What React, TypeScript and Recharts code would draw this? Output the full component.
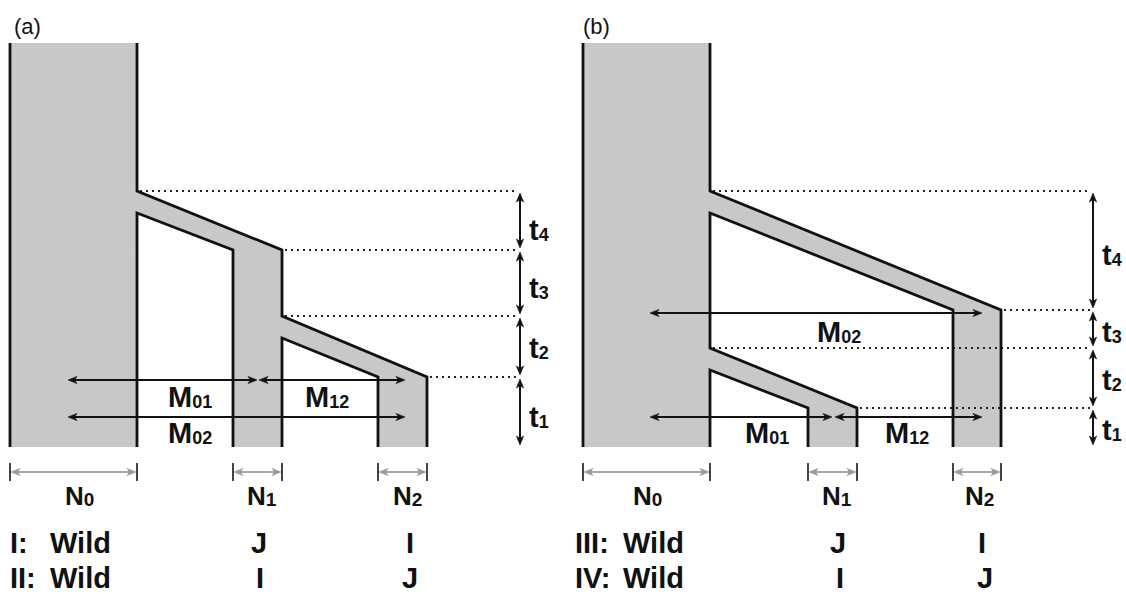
import React from "react";
import { ComposedChart, XAxis, YAxis, Area, Line, Scatter } from "recharts";

const W = 1126;
const H = 594;
const TOP = 43;
const BOTTOM = 447;
const BAND = 22;
const FONT = "'Liberation Sans', Arial, sans-serif";

// x edges [left, right] of N0, N1, N2
const colsA = [
  [10, 137],
  [233, 282],
  [378, 427],
];
const colsB = [
  [583, 710],
  [808, 857],
  [953, 1001],
];

// population splits: parent edge x, time it leaves, child index, time it arrives
const splitsA = [
  { from: 137, start: 191, child: 1, end: 250 },
  { from: 282, start: 316, child: 2, end: 377 },
];
const splitsB = [
  { from: 710, start: 191, child: 2, end: 310 },
  { from: 710, start: 348, child: 1, end: 408 },
];

// time levels for the t arrows (top to bottom) and the arrow column
const tLevelsA = [191, 250, 316, 377, 447];
const tLevelsB = [191, 310, 348, 408, 447];
const tAxisX = [520, 1093];

// migration arrows
const migA = [
  { y: 380, x1: 68, x2: 257 },
  { y: 380, x1: 259, x2: 405 },
  { y: 417, x1: 68, x2: 405 },
];
const migB = [
  { y: 313, x1: 650, x2: 982 },
  { y: 417, x1: 650, x2: 832 },
  { y: 417, x1: 835, x2: 982 },
];

const mLabels = [
  { x: 168, y: 407, text: "M", sub: "01" },
  { x: 305, y: 407, text: "M", sub: "12" },
  { x: 168, y: 443, text: "M", sub: "02" },
  { x: 817, y: 342, text: "M", sub: "02" },
  { x: 745, y: 443, text: "M", sub: "01" },
  { x: 885, y: 443, text: "M", sub: "12" },
];
const tLabels = [
  { x: 529, y: 240, text: "t", sub: "4" },
  { x: 529, y: 298, text: "t", sub: "3" },
  { x: 529, y: 358, text: "t", sub: "2" },
  { x: 529, y: 427, text: "t", sub: "1" },
  { x: 1102, y: 265, text: "t", sub: "4" },
  { x: 1102, y: 342, text: "t", sub: "3" },
  { x: 1102, y: 390, text: "t", sub: "2" },
  { x: 1102, y: 440, text: "t", sub: "1" },
];
const nLabels = [
  { x: 65, y: 505, text: "N", sub: "0" },
  { x: 247, y: 505, text: "N", sub: "1" },
  { x: 393, y: 505, text: "N", sub: "2" },
  { x: 633, y: 505, text: "N", sub: "0" },
  { x: 822, y: 505, text: "N", sub: "1" },
  { x: 965, y: 505, text: "N", sub: "2" },
];
const rowLabels = [
  { x: 10, y: 553, text: "I:" },
  { x: 50, y: 553, text: "Wild" },
  { x: 259, y: 553, text: "J", anchor: "middle" },
  { x: 410, y: 553, text: "I", anchor: "middle" },
  { x: 10, y: 588, text: "II:" },
  { x: 50, y: 588, text: "Wild" },
  { x: 260, y: 588, text: "I", anchor: "middle" },
  { x: 410, y: 588, text: "J", anchor: "middle" },
  { x: 575, y: 553, text: "III:" },
  { x: 623, y: 553, text: "Wild" },
  { x: 838, y: 553, text: "J", anchor: "middle" },
  { x: 982, y: 553, text: "I", anchor: "middle" },
  { x: 575, y: 588, text: "IV:" },
  { x: 623, y: 588, text: "Wild" },
  { x: 840, y: 588, text: "I", anchor: "middle" },
  { x: 985, y: 588, text: "J", anchor: "middle" },
];
const panelLabels = [
  { x: 14, y: 34, text: "(a)" },
  { x: 583, y: 34, text: "(b)" },
];

const SCALE_Y = 472;

type Pt = { x: number; y: number };
const P = (x: number, y: number): Pt => ({ x, y });

// grey fill of one split: slanted band plus child column
function splitFill(cols: number[][], s: { from: number; start: number; child: number; end: number }) {
  const [cl, cr] = cols[s.child];
  const topAtCl = s.start + ((s.end - s.start) * (cl - s.from)) / (cr - s.from);
  return [
    { x: s.from, r: [s.start, s.start + BAND] },
    { x: cl, r: [topAtCl, s.end] },
    { x: cl, r: [topAtCl, BOTTOM] },
    { x: cr, r: [s.end, BOTTOM] },
  ];
}

function outlinesA(): Pt[][] {
  const [c0, c1, c2] = colsA;
  const [s1, s2] = splitsA;
  return [
    [P(c0[0], TOP), P(c0[0], BOTTOM)],
    [P(c0[1], TOP), P(c0[1], s1.start), P(c1[1], s1.end), P(c1[1], s2.start), P(c2[1], s2.end), P(c2[1], BOTTOM)],
    [P(c0[1], BOTTOM), P(c0[1], s1.start + BAND), P(c1[0], s1.end), P(c1[0], BOTTOM)],
    [P(c1[1], BOTTOM), P(c1[1], s2.start + BAND), P(c2[0], s2.end), P(c2[0], BOTTOM)],
  ];
}

function outlinesB(): Pt[][] {
  const [c0, c1, c2] = colsB;
  const [s1, s2] = splitsB;
  return [
    [P(c0[0], TOP), P(c0[0], BOTTOM)],
    [P(c0[1], TOP), P(c0[1], s1.start), P(c2[1], s1.end), P(c2[1], BOTTOM)],
    [P(c2[0], BOTTOM), P(c2[0], s1.end), P(c0[1], s1.start + BAND), P(c0[1], s2.start), P(c1[1], s2.end), P(c1[1], BOTTOM)],
    [P(c0[1], BOTTOM), P(c0[1], s2.start + BAND), P(c1[0], s2.end), P(c1[0], BOTTOM)],
  ];
}

function dotted(cols: number[][], splits: typeof splitsA, xEnd: number): Pt[][] {
  const out: Pt[][] = [];
  splits.forEach((s) => {
    out.push([P(s.from + 3, s.start), P(xEnd - 2, s.start)]);
    out.push([P(cols[s.child][1] + 3, s.end), P(xEnd - 2, s.end)]);
  });
  return out;
}

const TextMark = (props: any) => {
  const { cx, cy, payload } = props;
  const size = payload.size ?? 29;
  return (
    <text
      x={cx}
      y={cy}
      fontFamily={FONT}
      fontWeight={payload.weight ?? 700}
      fontSize={size}
      fill="#111"
      textAnchor={payload.anchor ?? "start"}
    >
      {payload.text}
      {payload.sub ? (
        <tspan fontSize={payload.subSize ?? 18} dy={1}>
          {payload.sub}
        </tspan>
      ) : null}
    </text>
  );
};

const Head = (props: any) => {
  const { cx, cy, payload } = props;
  const c = payload.color ?? "#111";
  return (
    <path
      d="M0,0 L-9,-3.6 L-6.5,0 L-9,3.6 Z"
      transform={`translate(${cx},${cy}) rotate(${payload.dir})`}
      fill={c}
      stroke={c}
      strokeWidth={0.6}
    />
  );
};

export default function App() {
  const fills = [
    [{ x: colsA[0][0], r: [TOP, BOTTOM] }, { x: colsA[0][1], r: [TOP, BOTTOM] }],
    [{ x: colsB[0][0], r: [TOP, BOTTOM] }, { x: colsB[0][1], r: [TOP, BOTTOM] }],
    ...splitsA.map((s) => splitFill(colsA, s)),
    ...splitsB.map((s) => splitFill(colsB, s)),
  ];

  const outlines = [...outlinesA(), ...outlinesB()];
  const dots = [...dotted(colsA, splitsA, tAxisX[0]), ...dotted(colsB, splitsB, tAxisX[1])];

  const arrows: Pt[][] = [];
  const heads: any[] = [];
  [...migA, ...migB].forEach((m) => {
    arrows.push([P(m.x1 + 4, m.y), P(m.x2 - 4, m.y)]);
    heads.push({ x: m.x1, y: m.y, dir: 180 }, { x: m.x2, y: m.y, dir: 0 });
  });
  [tLevelsA, tLevelsB].forEach((lv, i) => {
    const x = tAxisX[i];
    for (let k = 0; k < lv.length - 1; k++) {
      const y1 = lv[k] + 2;
      const y2 = lv[k + 1] - 2;
      arrows.push([P(x, y1 + 4), P(x, y2 - 4)]);
      heads.push({ x, y: y1, dir: -90 }, { x, y: y2, dir: 90 });
    }
  });

  const scales: Pt[][] = [];
  const ticks: Pt[][] = [];
  [...colsA, ...colsB].forEach(([l, r]) => {
    scales.push([P(l + 3, SCALE_Y), P(r - 3, SCALE_Y)]);
    ticks.push([P(l, SCALE_Y - 9), P(l, SCALE_Y + 9)], [P(r, SCALE_Y - 9), P(r, SCALE_Y + 9)]);
    heads.push(
      { x: l + 1, y: SCALE_Y, dir: 180, color: "#9a9a9a" },
      { x: r - 1, y: SCALE_Y, dir: 0, color: "#9a9a9a" }
    );
  });

  const labels = [
    ...mLabels,
    ...tLabels.map((d) => ({ ...d, size: 29 })),
    ...nLabels.map((d) => ({ ...d, size: 26, subSize: 19 })),
    ...rowLabels.map((d) => ({ ...d, size: 29 })),
    ...panelLabels.map((d) => ({ ...d, size: 22, weight: 400 })),
  ];

  const line = (key: string, pts: Pt[], stroke: string, width: number, extra: any = {}) => (
    <Line
      key={key}
      data={pts}
      dataKey="y"
      type="linear"
      stroke={stroke}
      strokeWidth={width}
      dot={false}
      activeDot={false}
      legendType="none"
      isAnimationActive={false}
      {...extra}
    />
  );

  return (
    <div style={{ position: "absolute", left: 0, top: 0, width: W, height: H, background: "#fff" }}>
      <ComposedChart width={W} height={H} margin={{ top: 0, right: 0, bottom: 0, left: 0 }}>
        <XAxis type="number" dataKey="x" domain={[0, W]} allowDataOverflow hide />
        <YAxis type="number" dataKey="y" domain={[0, H]} allowDataOverflow reversed hide />
        {fills.map((f, i) => (
          <Area
            key={`f${i}`}
            data={f}
            dataKey="r"
            type="linear"
            stroke="none"
            fill="#c8c8c8"
            fillOpacity={1}
            dot={false}
            activeDot={false}
            legendType="none"
            isAnimationActive={false}
          />
        ))}
        {dots.map((d, i) => line(`d${i}`, d, "#222", 2, { strokeDasharray: "2 4" }))}
        {outlines.map((o, i) => line(`o${i}`, o, "#111", 2.8, { strokeLinejoin: "miter" }))}
        {arrows.map((a, i) => line(`a${i}`, a, "#111", 2))}
        {scales.map((s, i) => line(`s${i}`, s, "#a8a8a8", 2))}
        {ticks.map((t, i) => line(`k${i}`, t, "#444", 2))}
        <Scatter data={heads} shape={Head} isAnimationActive={false} legendType="none" />
        <Scatter data={labels} shape={TextMark} isAnimationActive={false} legendType="none" />
      </ComposedChart>
    </div>
  );
}
